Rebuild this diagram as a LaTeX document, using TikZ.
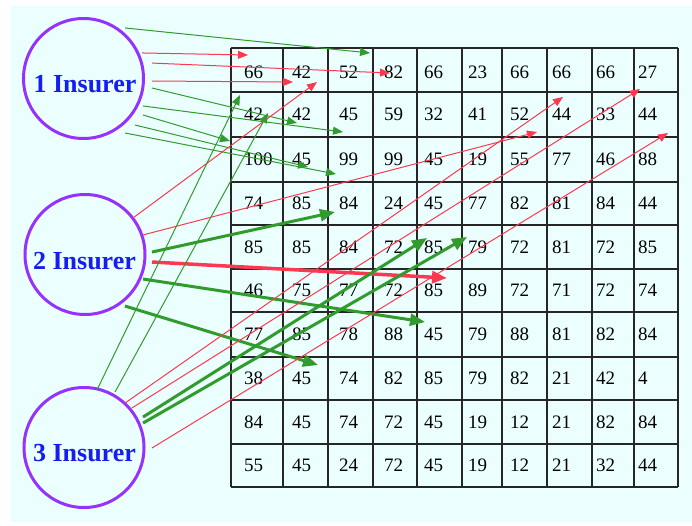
\documentclass[tikz,border=0pt]{standalone}
\usepackage{fontspec}
\setmainfont{Liberation Serif}
\usetikzlibrary{arrows.meta,calc}
\definecolor{bgcyan}{RGB}{235,255,255}
\definecolor{lred}{RGB}{255,55,80}
\definecolor{lgreen}{RGB}{50,155,45}
\definecolor{ipurple}{RGB}{150,50,255}
\definecolor{iblue}{RGB}{20,30,240}
\begin{document}
\begin{tikzpicture}[x=1pt,y=1pt,
  insurer/.style={circle,draw=ipurple,line width=3pt,minimum size=120pt,inner sep=0pt},
  ilabel/.style={text=iblue,font=\fontsize{26}{26}\selectfont\bfseries,inner sep=0pt},
  num/.style={anchor=west,inner sep=0pt,font=\fontsize{19}{19}\selectfont},
  gridline/.style={line width=1.6pt,black!85},
  gthin/.style={draw=lgreen,line width=1pt,-{Triangle[length=10pt,width=8pt]}},
  rthin/.style={draw=lred,line width=1pt,-{Triangle[length=10pt,width=8pt]}},
  gthick/.style={draw=lgreen,line width=3pt,-{Triangle[length=15pt,width=12pt]}},
  rthick/.style={draw=lred,line width=3.5pt,-{Triangle[length=15pt,width=12pt]}}
]
\useasboundingbox (0,0) rectangle (692,-525);
\fill[white] (0,0) rectangle (692,-525);
\fill[bgcyan] (10,-6) rectangle (692,-522);

% grid
\foreach \x in {231,283,328,373,417,462,502,547,592,634,678}
  \draw[gridline] (\x,-48) -- (\x,-487);
\foreach \y in {48,92,137,182,225,269,312,357,400,444,487}
  \draw[gridline] (231,-\y) -- (678,-\y);

% numbers
\foreach \rowvals [count=\r] in {
  {66,42,52,82,66,23,66,66,66,27},
  {42,42,45,59,32,41,52,44,33,44},
  {100,45,99,99,45,19,55,77,46,88},
  {74,85,84,24,45,77,82,81,84,44},
  {85,85,84,72,85,79,72,81,72,85},
  {46,75,77,72,85,89,72,71,72,74},
  {77,85,78,88,45,79,88,81,82,84},
  {38,45,74,82,85,79,82,21,42,4},
  {84,45,74,72,45,19,12,21,82,84},
  {55,45,24,72,45,19,12,21,32,44}} {
  \foreach \v [count=\c] in \rowvals {
    \pgfmathsetmacro{\xx}{{244,292,339,384,424,468,510,552,596,638}[\c-1]}
    \pgfmathsetmacro{\yy}{{72,114.5,159.5,203.5,247,290.5,334.5,378.5,422,465.5}[\r-1]}
    \node[num] (n-\r-\c) at (\xx,-\yy) {\v};
  }
}

% insurers
\node[insurer] (i1) at (83.5,-78.5) {};
\node[ilabel] (t1) at (85,-84) {1 Insurer};
\node[insurer] (i2) at (85,-254.5) {};
\node[ilabel] (t2) at (84.5,-261) {2 Insurer};
\node[insurer] (i3) at (84,-447.5) {};
\node[ilabel] (t3) at (84.5,-453) {3 Insurer};

% arrow targets
\coordinate (g0) at (370,-53);
\coordinate (r1) at (248,-55);
\coordinate (r2) at (390,-73);
\coordinate (r3) at (293,-82);
\coordinate (r4) at (317,-82);
\coordinate (g1) at (297,-123);
\coordinate (g2) at (343,-132);
\coordinate (g3) at (230,-141);
\coordinate (g4) at (308,-167);
\coordinate (g5) at (336,-174);
\coordinate (r5) at (537,-132);
\coordinate (g6) at (335,-212);
\coordinate (r6) at (447,-278);
\coordinate (g7) at (425,-322);
\coordinate (g8) at (318,-365);
\coordinate (g9) at (240,-95);
\coordinate (g10) at (268,-113);
\coordinate (r7) at (563,-97);
\coordinate (r8) at (640,-89);
\coordinate (g11) at (427,-238);
\coordinate (g12) at (467,-237);
\coordinate (r9) at (668,-133);

% insurer 1
\draw[gthin] ($(i1.center)+(50.6:65.4)$) -- (g0);
\draw[rthin] ($(i1.center)+(23.6:63.8)$) -- (r1);
\draw[rthin] ($(i1.center)+(12.7:70.2)$) -- (r2);
\draw[rthin] ($(i1.center)+(-2.1:68.5)$) -- (r3);
\draw[gthin] ($(i1.center)+(-7.9:69.2)$) -- (g1);
\draw[gthin] ($(i1.center)+(-24.8:65.5)$) -- (g2);
\draw[gthin] ($(i1.center)+(-31.5:69.8)$) -- (g3);
\draw[gthin] ($(i1.center)+(-42.1:69.4)$) -- (g4);
\draw[gthin] ($(i1.center)+(-52.7:68.5)$) -- (g5);

% insurer 2
\draw[rthin] ($(i2.center)+(37.3:60.3)$) -- (r4);
\draw[rthin] ($(i2.center)+(18.6:61.2)$) -- (r5);
\draw[gthick] ($(i2.center)+(2.1:67)$) -- (g6);
\draw[rthick] ($(i2.center)+(-6.4:67.4)$) -- (r6);
\draw[gthick] ($(i2.center)+(-22.9:63)$) -- (g7);
\draw[gthick] ($(i2.center)+(-52.2:65.2)$) -- (g8);

% insurer 3
\draw[gthin] ($(i3.center)+(77.3:59)$) -- (g9);
\draw[gthin] ($(i3.center)+(60.8:63.6)$) -- (g10);
\draw[rthin] ($(i3.center)+(47.3:60.5)$) -- (r7);
\draw[rthin] ($(i3.center)+(39.5:62.2)$) -- (r8);
\draw[gthick] ($(i3.center)+(27.3:66.4)$) -- (g11);
\draw[gthick] ($(i3.center)+(22.5:63.9)$) -- (g12);
\draw[rthin] ($(i3.center)+(-0.4:68)$) -- (r9);
\end{tikzpicture}
\end{document}
